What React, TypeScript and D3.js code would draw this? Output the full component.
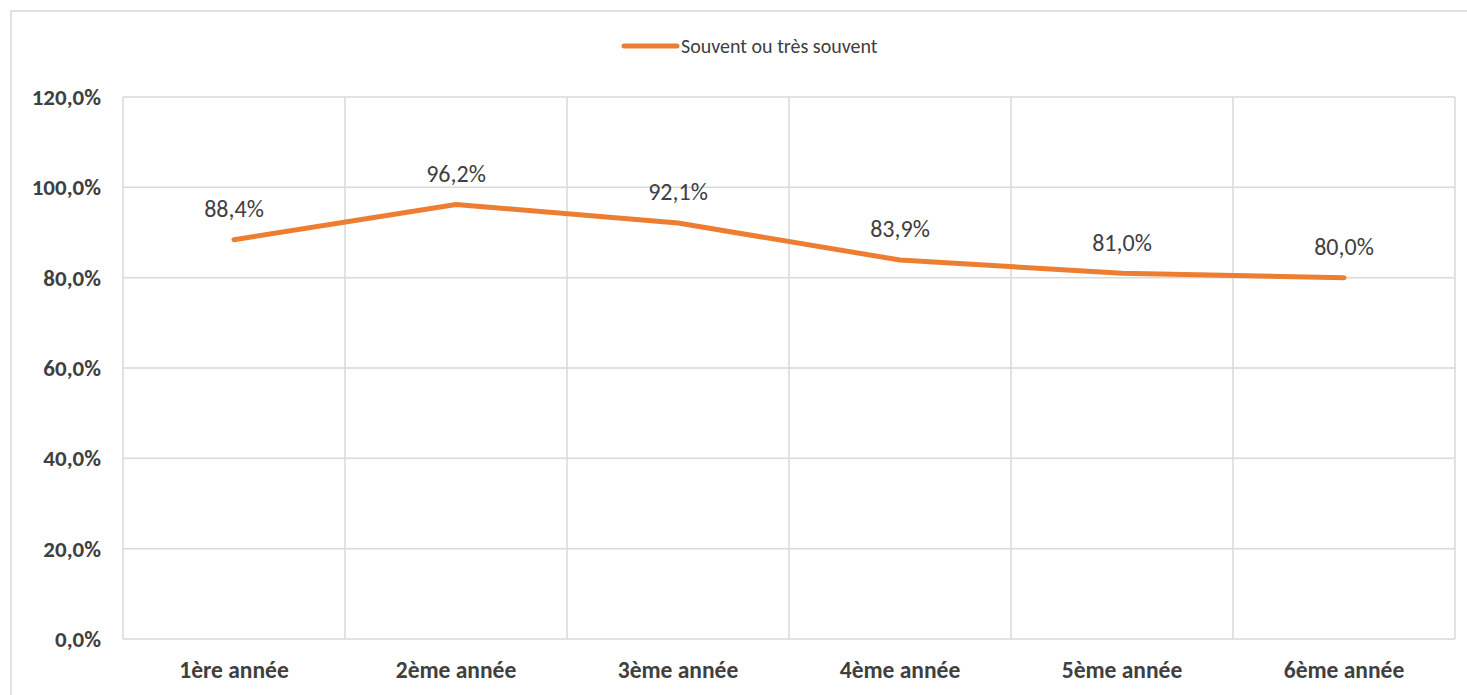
import React, { useEffect, useRef } from 'react';
import * as d3 from 'd3';

// Chart data
const categories = ['1ère année', '2ème année', '3ème année', '4ème année', '5ème année', '6ème année'];
const seriesName = 'Souvent ou très souvent';
const values = [88.4, 96.2, 92.1, 83.9, 81.0, 80.0];
const yTicks = [0, 20, 40, 60, 80, 100, 120];

const fmt = (v: number) => v.toFixed(1).replace('.', ',') + '%';

const App = () => {
  const ref = useRef<SVGSVGElement>(null);

  useEffect(() => {
    const width = 1467;
    const height = 695;
    const margin = { top: 97, right: 12, bottom: 56, left: 123 };
    const font = 'Carlito, "Open Sans", "Liberation Sans", sans-serif';
    const orange = '#ED7D31';
    const grid = '#d9d9d9';

    const svg = d3.select(ref.current);
    svg.selectAll('*').remove();

    svg.append('rect').attr('width', width).attr('height', height).attr('fill', '#fff');

    // Outer frame (chart area border, clipped by the window)
    svg
      .append('rect')
      .attr('x', 11)
      .attr('y', 11)
      .attr('width', width + 20)
      .attr('height', height + 20)
      .attr('fill', 'none')
      .attr('stroke', grid)
      .attr('stroke-width', 1.5);

    const x = d3
      .scaleBand()
      .domain(categories)
      .range([margin.left, width - margin.right]);

    const y = d3
      .scaleLinear()
      .domain([0, 120])
      .range([height - margin.bottom, margin.top]);

    // Horizontal gridlines
    svg
      .append('g')
      .selectAll('line')
      .data(yTicks)
      .enter()
      .append('line')
      .attr('x1', margin.left)
      .attr('x2', width - margin.right)
      .attr('y1', (d) => y(d))
      .attr('y2', (d) => y(d))
      .attr('stroke', grid)
      .attr('stroke-width', 1.5);

    // Vertical gridlines at band edges
    const edges = categories.map((c) => x(c) as number).concat([width - margin.right]);
    svg
      .append('g')
      .selectAll('line')
      .data(edges)
      .enter()
      .append('line')
      .attr('x1', (d) => d)
      .attr('x2', (d) => d)
      .attr('y1', y(120))
      .attr('y2', y(0))
      .attr('stroke', grid)
      .attr('stroke-width', 1.5);

    // Y axis labels
    svg
      .append('g')
      .selectAll('text')
      .data(yTicks)
      .enter()
      .append('text')
      .attr('x', 101)
      .attr('y', (d) => y(d))
      .attr('dy', '0.35em')
      .attr('text-anchor', 'end')
      .attr('font-family', font)
      .attr('font-weight', 'bold')
      .attr('font-size', 23)
      .attr('fill', '#404040')
      .text((d) => fmt(d));

    // X axis labels
    svg
      .append('g')
      .selectAll('text')
      .data(categories)
      .enter()
      .append('text')
      .attr('x', (d) => (x(d) as number) + x.bandwidth() / 2)
      .attr('y', 670)
      .attr('dy', '0.35em')
      .attr('text-anchor', 'middle')
      .attr('font-family', font)
      .attr('font-weight', 'bold')
      .attr('font-size', 23.5)
      .attr('fill', '#404040')
      .text((d) => d);

    // Line
    const line = d3
      .line<number>()
      .x((_, i) => (x(categories[i]) as number) + x.bandwidth() / 2)
      .y((d) => y(d));

    svg
      .append('path')
      .datum(values)
      .attr('d', line)
      .attr('fill', 'none')
      .attr('stroke', orange)
      .attr('stroke-width', 5)
      .attr('stroke-linecap', 'round')
      .attr('stroke-linejoin', 'round');

    // Data labels
    svg
      .append('g')
      .selectAll('text')
      .data(values)
      .enter()
      .append('text')
      .attr('x', (_, i) => (x(categories[i]) as number) + x.bandwidth() / 2)
      .attr('y', (d) => y(d) - 31)
      .attr('dy', '0.35em')
      .attr('text-anchor', 'middle')
      .attr('font-family', font)
      .attr('font-size', 24)
      .attr('fill', '#404040')
      .text((d) => fmt(d));

    // Legend
    const lg = svg.append('g');
    lg.append('line')
      .attr('x1', 624)
      .attr('x2', 677)
      .attr('y1', 46)
      .attr('y2', 46)
      .attr('stroke', orange)
      .attr('stroke-width', 5)
      .attr('stroke-linecap', 'round');
    lg.append('text')
      .attr('x', 681)
      .attr('y', 46)
      .attr('dy', '0.35em')
      .attr('font-family', font)
      .attr('font-size', 20)
      .attr('fill', '#404040')
      .text(seriesName);
  }, []);

  return (
    <div>
      <svg
        ref={ref}
        width={1467}
        height={695}
        style={{ position: 'absolute', left: 0, top: 0, display: 'block' }}
      />
    </div>
  );
};

export default App;
